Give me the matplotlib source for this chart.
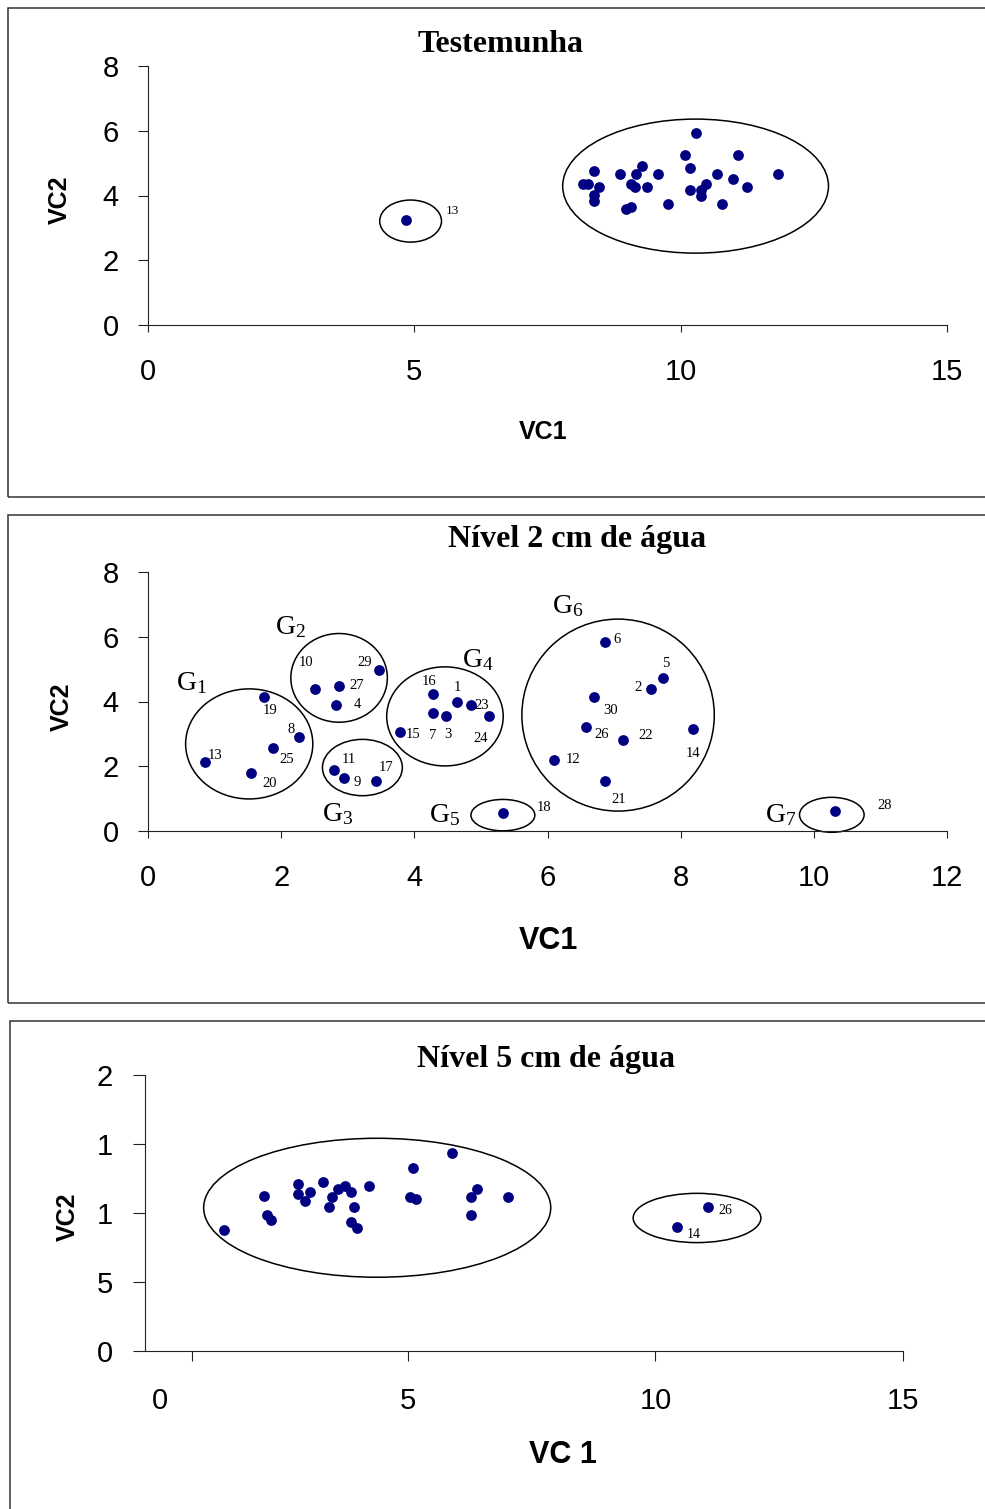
import numpy as np
import matplotlib
matplotlib.use('Agg')
import matplotlib.pyplot as plt
from matplotlib.patches import Ellipse, Rectangle

plt.rcParams['font.family'] = ['Liberation Sans', 'DejaVu Sans']
plt.rcParams['mathtext.fontset'] = 'custom'
plt.rcParams['mathtext.rm'] = 'Liberation Serif'
plt.rcParams['mathtext.it'] = 'Liberation Serif'

# ---- dados ----
# Testemunha
t_vc1 = [4.84, 10.28, 10.08, 11.08, 8.37, 8.87, 9.27, 9.17, 9.57, 10.18,
         10.68, 11.83, 8.16, 8.26, 8.47, 9.07, 9.14, 9.37, 8.37, 8.37,
         10.18, 10.39, 10.48, 10.39, 10.98, 11.24, 9.77, 10.78, 8.97, 9.07]
t_vc2 = [3.24, 5.92, 5.25, 5.25, 4.75, 4.66, 4.92, 4.66, 4.66, 4.84,
         4.66, 4.66, 4.34, 4.34, 4.25, 4.34, 4.25, 4.25, 4.03, 3.84,
         4.17, 4.17, 4.34, 3.99, 4.51, 4.25, 3.73, 3.73, 3.57, 3.65]
t_lab = ['13'] + [''] * 29

# Nivel 2 cm (genotipos 1..30)
n2_id = [str(i) for i in range(1, 31)]
n2_vc1 = [4.64, 7.55, 4.48, 2.83, 7.74, 6.86, 4.28, 2.27, 2.95, 2.51,
          2.79, 6.10, 0.85, 8.19, 3.79, 4.28, 3.43, 5.33, 1.74, 1.54,
          6.86, 7.14, 4.85, 5.12, 1.87, 6.58, 2.87, 10.32, 3.47, 6.70]
n2_vc2 = [3.97, 4.39, 3.56, 3.90, 4.73, 5.83, 3.63, 2.89, 1.63, 4.40,
          1.88, 2.20, 2.12, 3.14, 3.07, 4.23, 1.54, 0.55, 4.15, 1.79,
          1.53, 2.81, 3.90, 3.56, 2.56, 3.22, 4.48, 0.62, 4.98, 4.15]
grupos = ['G$_1$', 'G$_2$', 'G$_3$', 'G$_4$', 'G$_5$', 'G$_6$', 'G$_7$']

# Nivel 5 cm
n5_vc1 = [1.28, 2.09, 2.15, 2.23, 2.78, 2.78, 3.02, 2.92, 3.28, 3.40,
          3.47, 3.59, 3.73, 3.85, 3.91, 3.85, 3.97, 4.21, 5.10, 5.04,
          5.16, 5.89, 6.39, 6.27, 6.27, 7.02, 11.06, 10.44]
n5_vc2 = [8.77, 11.23, 9.86, 9.49, 12.10, 11.38, 11.52, 10.87, 12.27, 10.46,
          11.18, 11.72, 11.96, 11.54, 10.43, 9.33, 8.91, 11.96, 13.24, 11.18,
          10.99, 14.37, 11.74, 11.18, 9.88, 11.18, 10.46, 8.96]
n5_lab = [''] * 26 + ['26', '14']
n5_yticks = [0, 5, 10, 15, 20]
n5_yticklabels = ['0', '5', '1', '1', '2']

W, H = 985, 1509
fig = plt.figure(figsize=(W / 100, H / 100), dpi=100)
navy = '#000080'
serif = 'Liberation Serif'


def px(x, y):
    return x / W, 1 - y / H


def estilo(ax):
    ax.spines['top'].set_visible(False)
    ax.spines['right'].set_visible(False)
    for s in ['left', 'bottom']:
        ax.spines[s].set_linewidth(0.8)
        ax.spines[s].set_color('#222222')
    ax.tick_params(axis='y', direction='out', length=7, width=0.8,
                   labelsize=21, pad=14, color='#222222')
    ax.tick_params(axis='x', direction='out', length=5, width=0.8,
                   labelsize=21, pad=19, color='#222222')


# molduras
fig.patches.append(Rectangle(px(8, 497), 1.0, 489 / H, transform=fig.transFigure,
                             fill=False, ec='#333333', lw=1.1))
fig.patches.append(Rectangle(px(8, 1003), 1.0, 488 / H, transform=fig.transFigure,
                             fill=False, ec='#333333', lw=1.1))
fig.patches.append(Rectangle(px(10, 1530), 1.0, 509 / H, transform=fig.transFigure,
                             fill=False, ec='#333333', lw=1.1))

# ---- Testemunha ----
ax1 = fig.add_axes([148 / W, 1 - 325 / H, 799 / W, 259 / H])
ax1.scatter(t_vc1, t_vc2, s=60, c=navy, linewidths=0, zorder=3, clip_on=False)
for lab, x, y in zip(t_lab, t_vc1, t_vc2):
    if lab:
        ax1.annotate(lab, (x, y), xytext=(47, 9), textcoords='offset pixels',
                     ha='center', va='center', fontsize=9.5, family=serif)
ax1.add_patch(Ellipse((4.93, 3.21), 1.16, 1.30, fill=False, ec='black', lw=1.1))
ax1.add_patch(Ellipse((10.28, 4.29), 4.99, 4.14, fill=False, ec='black', lw=1.1))
ax1.set_xlim(0, 15)
ax1.set_ylim(0, 8)
ax1.set_xticks([0, 5, 10, 15])
ax1.set_yticks([0, 2, 4, 6, 8])
estilo(ax1)
fig.text(*px(501, 45), 'Testemunha', ha='center', va='center', fontsize=23,
         fontweight='bold', family=serif)
fig.text(*px(543, 432), 'VC1', ha='center', va='center', fontsize=18, fontweight='bold')
fig.text(*px(60, 200), 'VC2', ha='center', va='center', fontsize=18,
         fontweight='bold', rotation=90)

# ---- Nivel 2 cm ----
ax2 = fig.add_axes([148 / W, 1 - 831 / H, 799 / W, 259 / H])
ax2.scatter(n2_vc1, n2_vc2, s=60, c=navy, linewidths=0, zorder=3, clip_on=False)
off2 = {'1': (0, -15), '2': (-13, -1), '3': (2, 19), '4': (21, 0), '5': (2, -14),
        '6': (12, -3), '7': (0, 22), '8': (-8, -8), '9': (13, 4), '10': (-9, -26),
        '11': (15, -11), '12': (19, 0), '13': (10, -7), '14': (0, 24), '15': (13, 3),
        '16': (-4, -13), '17': (10, -14), '18': (41, -6), '19': (6, 14), '20': (19, 10),
        '21': (14, 18), '22': (22, -5), '23': (11, 1), '24': (-8, 23), '25': (14, 11),
        '26': (16, 8), '27': (18, 0), '28': (49, -5), '29': (-14, -7), '30': (16, 14)}
for lab, x, y in zip(n2_id, n2_vc1, n2_vc2):
    dx, dy = off2[lab]
    ax2.annotate(lab, (x, y), xytext=(dx, -dy), textcoords='offset pixels',
                 ha='center', va='center', fontsize=10.5, family=serif)
elip2 = [(1.52, 2.69, 1.91, 3.40), (2.87, 4.73, 1.45, 2.74), (3.22, 1.96, 1.20, 1.74),
         (4.46, 3.54, 1.75, 3.06), (5.33, 0.49, 0.96, 0.97), (7.06, 3.58, 2.89, 5.93),
         (10.27, 0.50, 0.97, 1.08)]
gpos = [(0.65, 4.57), (2.14, 6.31), (2.85, 0.52), (4.95, 5.28), (4.46, 0.50),
        (6.30, 6.94), (9.50, 0.49)]
for (cx, cy, w, h), g, (gx, gy) in zip(elip2, grupos, gpos):
    ax2.add_patch(Ellipse((cx, cy), w, h, fill=False, ec='black', lw=1.1, clip_on=False))
    ax2.text(gx, gy, g, ha='center', va='center', fontsize=20, family=serif)
ax2.set_xlim(0, 12)
ax2.set_ylim(0, 8)
ax2.set_xticks(range(0, 13, 2))
ax2.set_yticks([0, 2, 4, 6, 8])
estilo(ax2)
fig.text(*px(577, 539), 'Nível 2 cm de água', ha='center', va='center', fontsize=23,
         fontweight='bold', family=serif)
fig.text(*px(548, 941), 'VC1', ha='center', va='center', fontsize=22, fontweight='bold')
fig.text(*px(62, 707), 'VC2', ha='center', va='center', fontsize=18,
         fontweight='bold', rotation=90)

# ---- Nivel 5 cm ----
ax3 = fig.add_axes([145 / W, 1 - 1351 / H, 758 / W, 276 / H])
ax3.scatter(n5_vc1, n5_vc2, s=60, c=navy, linewidths=0, zorder=3, clip_on=False)
off3 = {'26': (17, 4), '14': (17, 7)}
for lab, x, y in zip(n5_lab, n5_vc1, n5_vc2):
    if lab:
        dx, dy = off3[lab]
        ax3.annotate(lab, (x, y), xytext=(dx, -dy), textcoords='offset pixels',
                     ha='center', va='center', fontsize=10, family=serif)
ax3.add_patch(Ellipse((4.38, 10.38), 7.01, 10.07, fill=False, ec='black', lw=1.1))
ax3.add_patch(Ellipse((10.84, 9.64), 2.58, 3.57, fill=False, ec='black', lw=1.1))
ax3.set_xlim(-0.31, 15.0)
ax3.set_ylim(0, 20)
ax3.set_xticks([0, 5, 10, 15])
ax3.set_xticks([0.64], minor=True)
ax3.set_yticks(n5_yticks)
ax3.set_yticklabels(n5_yticklabels)
estilo(ax3)
ax3.tick_params(axis='y', length=9)
ax3.tick_params(axis='x', length=7)
ax3.tick_params(axis='x', which='minor', length=7, width=0.8, color='#222222')
ax3.xaxis.get_major_ticks()[0].tick1line.set_visible(False)
fig.text(*px(546, 1059), 'Nível 5 cm de água', ha='center', va='center', fontsize=23,
         fontweight='bold', family=serif)
fig.text(*px(563, 1455), 'VC 1', ha='center', va='center', fontsize=22, fontweight='bold')
fig.text(*px(68, 1217), 'VC2', ha='center', va='center', fontsize=18,
         fontweight='bold', rotation=90)

fig.savefig('out.png', dpi=100)
